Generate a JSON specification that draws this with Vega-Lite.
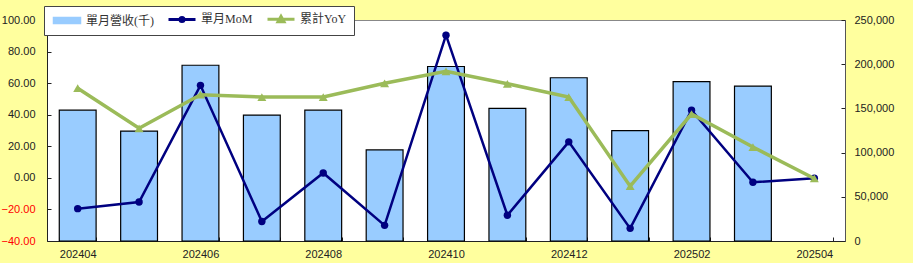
{
  "$schema": "https://vega.github.io/schema/vega-lite/v6.json",
  "width": 798,
  "height": 221,
  "autosize": {"type": "none"},
  "padding": {"left": 47, "top": 20, "right": 68, "bottom": 22},
  "background": "#FFFF9E",
  "config": {
    "view": {"stroke": "#888888", "fill": "white"},
    "axis": {"labelFont": "Liberation Sans", "labelFontSize": 11, "labelColor": "#222222", "grid": false, "title": null, "domainColor": "#222222", "tickColor": "#222222", "labelOverlap": false}
  },
  "data": {
    "values": [
      {"month": "202404", "series": "單月營收(千)", "value": 148000},
      {"month": "202405", "series": "單月營收(千)", "value": 124400},
      {"month": "202406", "series": "單月營收(千)", "value": 198800},
      {"month": "202407", "series": "單月營收(千)", "value": 142500},
      {"month": "202408", "series": "單月營收(千)", "value": 148000},
      {"month": "202409", "series": "單月營收(千)", "value": 103000},
      {"month": "202410", "series": "單月營收(千)", "value": 197400},
      {"month": "202411", "series": "單月營收(千)", "value": 150100},
      {"month": "202412", "series": "單月營收(千)", "value": 184700},
      {"month": "202501", "series": "單月營收(千)", "value": 124800},
      {"month": "202502", "series": "單月營收(千)", "value": 180200},
      {"month": "202503", "series": "單月營收(千)", "value": 175300},
      {"month": "202404", "series": "單月MoM", "value": -19.5},
      {"month": "202405", "series": "單月MoM", "value": -15.3},
      {"month": "202406", "series": "單月MoM", "value": 58.6},
      {"month": "202407", "series": "單月MoM", "value": -27.6},
      {"month": "202408", "series": "單月MoM", "value": 3.1},
      {"month": "202409", "series": "單月MoM", "value": -30.1},
      {"month": "202410", "series": "單月MoM", "value": 90.4},
      {"month": "202411", "series": "單月MoM", "value": -23.7},
      {"month": "202412", "series": "單月MoM", "value": 22.8},
      {"month": "202501", "series": "單月MoM", "value": -32.0},
      {"month": "202502", "series": "單月MoM", "value": 42.9},
      {"month": "202503", "series": "單月MoM", "value": -2.8},
      {"month": "202504", "series": "單月MoM", "value": -0.3},
      {"month": "202404", "series": "累計YoY", "value": 56.8},
      {"month": "202405", "series": "累計YoY", "value": 31.4},
      {"month": "202406", "series": "累計YoY", "value": 52.7},
      {"month": "202407", "series": "累計YoY", "value": 51.2},
      {"month": "202408", "series": "累計YoY", "value": 51.2},
      {"month": "202409", "series": "累計YoY", "value": 59.9},
      {"month": "202410", "series": "累計YoY", "value": 67.5},
      {"month": "202411", "series": "累計YoY", "value": 59.6},
      {"month": "202412", "series": "累計YoY", "value": 51.2},
      {"month": "202501", "series": "累計YoY", "value": -5.3},
      {"month": "202502", "series": "累計YoY", "value": 40.4},
      {"month": "202503", "series": "累計YoY", "value": 19.5},
      {"month": "202504", "series": "累計YoY", "value": -0.4}
    ]
  },
  "encoding": {
    "x": {
      "field": "month", "type": "ordinal",
      "sort": ["202404","202405","202406","202407","202408","202409","202410","202411","202412","202501","202502","202503","202504"],
      "scale": {"domain": ["202404","202405","202406","202407","202408","202409","202410","202411","202412","202501","202502","202503","202504"], "paddingInner": 0.4, "paddingOuter": 0.2},
      "axis": {"labelAngle": 0, "tickBand": "extent", "tickSize": -4, "labelPadding": 11, "labelExpr": "toNumber(substring(datum.label,4,6)) % 2 == 0 ? datum.label : ''"}
    },
    "color": {
      "field": "series", "type": "nominal",
      "scale": {"domain": ["單月營收(千)", "單月MoM", "累計YoY"], "range": ["#99CCFF", "#000080", "#9BBB59"]},
      "legend": {
        "title": null, "orient": "none", "legendX": -3, "legendY": -14, "direction": "horizontal",
        "strokeColor": "#444444", "fillColor": "white", "padding": 7,
        "labelFont": "Liberation Serif, Noto Sans CJK TC", "labelFontSize": 12, "labelColor": "#333333",
        "labelOffset": 13, "symbolOffset": 10, "columnPadding": 8, "symbolSize": 729, "symbolStrokeWidth": 1.5,
        "encode": {
          "symbols": {
            "update": {
              "shape": {"signal": "datum.value == '單月營收(千)' ? 'M-1,-0.22H1V0.22H-1Z' : datum.value == '單月MoM' ? 'M-1,0H1M-0.15,0A0.15,0.15,0,1,1,0.15,0A0.15,0.15,0,1,1,-0.15,0' : 'M-1,0H1M-0.22,0.17L0,-0.22L0.22,0.17Z'"},
              "fill": {"signal": "datum.value == '單月營收(千)' ? '#99CCFF' : datum.value == '單月MoM' ? '#000080' : '#9BBB59'"},
              "stroke": {"signal": "datum.value == '單月營收(千)' ? '#000000' : datum.value == '單月MoM' ? '#000080' : '#9BBB59'"},
              "strokeWidth": {"signal": "datum.value == '單月營收(千)' ? 1.5 : 3"},
              "strokeOpacity": {"value": 1},
              "opacity": {"value": 1},
              "fillOpacity": {"value": 1},
              "size": {"value": 729}
            }
          }
        }
      }
    }
  },
  "layer": [
    {
      "transform": [{"filter": "datum.series == '單月營收(千)'"}],
      "mark": {"type": "bar", "stroke": "black", "strokeWidth": 1.2},
      "encoding": {
        "y": {"field": "value", "type": "quantitative", "scale": {"domain": [0, 250000], "nice": false, "zero": true},
          "axis": {"orient": "right", "values": [0, 50000, 100000, 150000, 200000, 250000], "format": ",.0f", "tickSize": -4, "labelPadding": 13, "domainColor": "#555555"}}
      }
    },
    {
      "encoding": {
        "y": {"field": "value", "type": "quantitative", "scale": {"domain": [-40, 100], "nice": false},
          "axis": {"orient": "left", "values": [-40, -20, 0, 20, 40, 60, 80, 100], "format": ".2f", "tickSize": -4, "labelPadding": 16,
            "labelOverlap": false, "labelBound": false, "labelFlush": false,
            "labelColor": {"expr": "datum.value < 0 ? '#FF0000' : '#222222'"}}}
      },
      "layer": [
        {
          "transform": [{"filter": "datum.series == '單月MoM'"}],
          "mark": {"type": "line", "strokeWidth": 2.5, "point": {"filled": true, "size": 55, "opacity": 1}}
        },
        {
          "transform": [{"filter": "datum.series == '累計YoY'"}],
          "mark": {"type": "line", "strokeWidth": 3.5, "point": {"filled": true, "shape": "triangle-up", "size": 80, "opacity": 1}}
        }
      ]
    }
  ],
  "resolve": {"scale": {"y": "independent"}}
}
